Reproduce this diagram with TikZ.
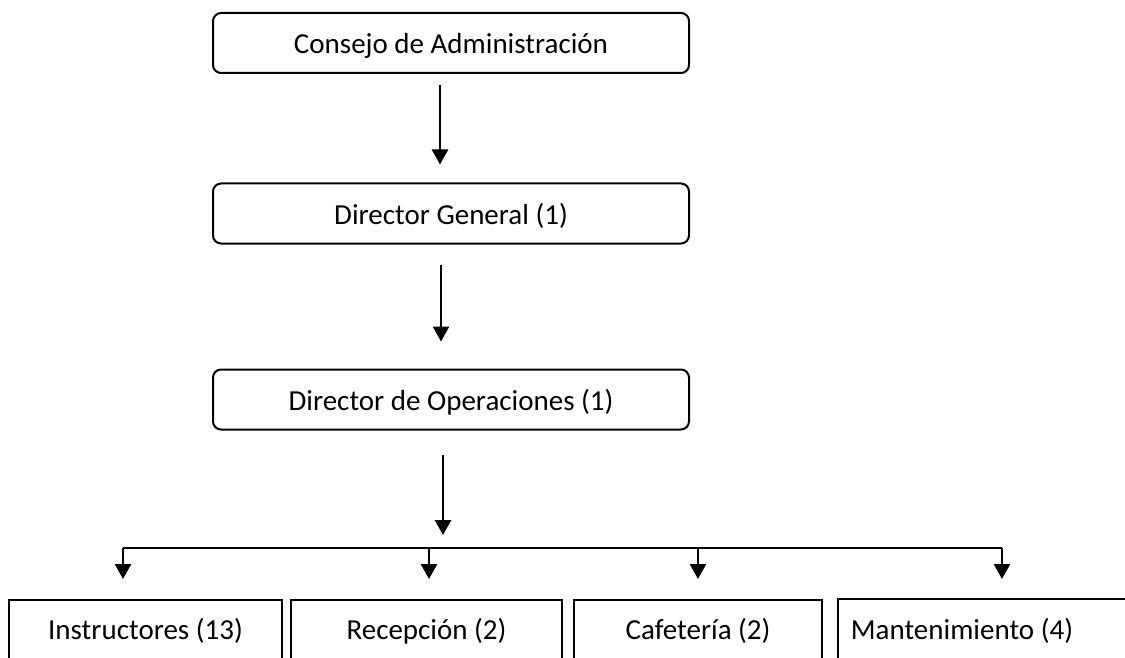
\documentclass[tikz,border=0pt]{standalone}
\usepackage{fontspec}
\setmainfont{Carlito}
\usetikzlibrary{arrows.meta,calc}
\begin{document}
\begin{tikzpicture}[x=1pt,y=-1pt,
  lbl/.style={font=\fontsize{29}{33}\selectfont},
  rbox/.style={lbl,draw,line width=2pt,rounded corners=8pt,minimum width=476pt,inner sep=0pt,text height=41pt,text depth=19pt},
  sbox/.style={lbl,draw,line width=2pt,anchor=north west,inner sep=0pt,text height=39pt,text depth=31pt},
  arr/.style={line width=2.5pt,-{Triangle[length=15pt,width=16pt]}},
  bus/.style={line width=2.5pt}]
\useasboundingbox (0,0) rectangle (1125,658);
\clip (0,0) rectangle (1125,658);
% main chain
\node[rbox] (cons) at (451,43) {Consejo de Administración};
\node[rbox] (dg) at (451,213.5) {Director General (1)};
\node[rbox] (dop) at (451,399.5) {Director de Operaciones (1)};
% bottom boxes
\node[sbox,minimum width=273pt] (ins) at (8,599) {Instructores (13)};
\node[sbox,minimum width=271pt] (rec) at (290,599) {Recepción (2)};
\node[sbox,minimum width=248pt] (caf) at (573,599) {Cafetería (2)};
\node[sbox,draw=none,minimum width=246pt] (man) at (838,599) {Mantenimiento (4)};
\draw[line width=2pt] (man.south west) -- (man.north west) -- ($(man.north east)+(80,0)$);
% arrows between main boxes
\coordinate (a1) at (440,0);
\coordinate (a2) at (441,0);
\coordinate (a3) at (443,0);
\draw[arr,shorten <=11pt,shorten >=18pt] (cons.south -| a1) -- (dg.north -| a1);
\draw[arr,shorten <=20pt,shorten >=27pt] (dg.south -| a2) -- (dop.north -| a2);
\coordinate (busL) at (123,548);
\coordinate (busR) at (1002,548);
\coordinate (busM) at (443,548);
\draw[arr,shorten <=24pt,shorten >=13pt] (dop.south -| a3) -- (busM);
% bus
\draw[bus] (busL) -- (busR);
\coordinate (d1) at (123,548);
\coordinate (d2) at (429,548);
\coordinate (d3) at (698,548);
\coordinate (d4) at (1002,548);
\draw[arr,shorten >=20pt] (d1) -- (d1 |- ins.north);
\draw[arr,shorten >=20pt] (d2) -- (d2 |- rec.north);
\draw[arr,shorten >=20pt] (d3) -- (d3 |- caf.north);
\draw[arr,shorten >=20pt] (d4) -- (d4 |- man.north);
\end{tikzpicture}
\end{document}
